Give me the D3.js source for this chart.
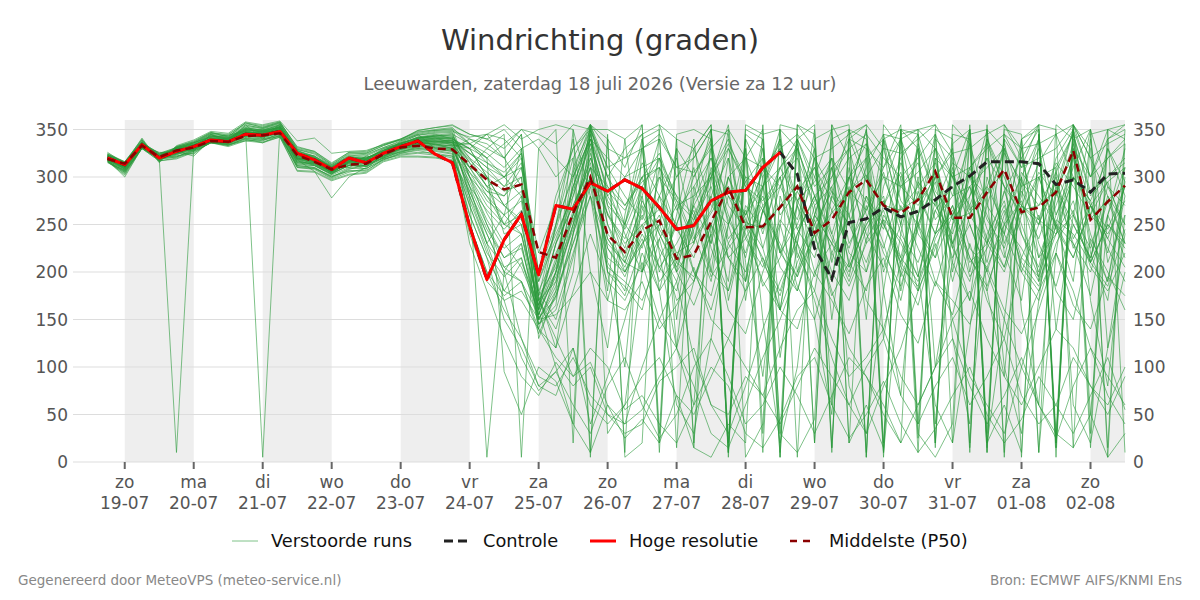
<!DOCTYPE html>
<html><head><meta charset="utf-8">
<script src="https://cdn.jsdelivr.net/npm/d3@7"></script>
<style>body{margin:0;background:#fff}svg{display:block;font-family:"DejaVu Sans",sans-serif}</style>
</head><body><svg id="c" width="1200" height="600"></svg>
<script>
const titleText = "Windrichting (graden)";
const subtitleText = "Leeuwarden, zaterdag 18 juli 2026 (Versie za 12 uur)";
const startTime = "2026-07-18T18:00:00Z";
const stepHours = 6;
const tickDays = ["zo","ma","di","wo","do","vr","za","zo","ma","di","wo","do","vr","za","zo"];
const tickDates = ["19-07","20-07","21-07","22-07","23-07","24-07","25-07","26-07","27-07","28-07","29-07","30-07","31-07","01-08","02-08"];
const shadedDates = ["19-07","21-07","23-07","25-07","27-07","29-07","31-07","02-08"];
const yTicks = [0,50,100,150,200,250,300,350];

const hres = [320,313,334,320,327,332,339,337,345,344,348,325,318,308,320,315,325,332,338,324,315,248,192,234,261,197,270,266,294,285,297,288,268,245,249,275,284,286,310,326];
const control = [320,313,334,320,327,332,339,337,345,344,348,325,318,308,320,315,325,332,338,324,315,248,192,234,261,197,270,266,294,285,297,288,268,245,249,275,284,286,310,326,303,225,193,252,256,268,258,264,276,290,301,316,316,316,314,292,297,284,303,304];
const p50 = [319,314,333,321,328,331,338,337,343,344,346,323,316,308,313,314,324,331,333,330,329,313,297,287,292,221,215,262,300,239,221,244,254,214,218,253,289,247,248,268,290,241,255,284,297,270,262,276,306,257,257,284,308,263,268,284,328,255,274,291];

// ensemble members, first 21 steps (18-07 18u .. 23-07 18u)
const membersEarly = [
[318,309,333,322,325,334,340,339,350,347,352,318,312,303,318,311,327,333,338,341,336],
[324,315,338,317,330,327,345,335,355,340,356,325,322,310,312,322,320,338,345,330,328],
[316,304,331,319,321,329,337,333,341,338,346,310,308,298,305,309,318,325,328,324,320],
[321,313,336,325,331,336,342,344,348,350,351,328,320,311,322,318,330,335,342,345,340],
[319,310,332,318,326,324,338,337,344,342,348,315,314,305,315,316,322,329,333,333,331],
[325,316,340,315,332,338,347,342,357,352,358,330,326,313,325,325,333,340,348,349,350],
[317,306,330,320,10,330,336,334,340,336,344,312,310,300,308,313,320,327,330,328,325],
[322,311,335,324,329,333,344,341,352,349,354,322,318,309,320,320,328,336,340,343,345],
[320,308,334,321,327,322,339,339,346,345,350,319,315,306,314,308,325,330,336,335,330],
[326,314,341,316,333,339,348,346,358,355,359,338,341,325,327,328,334,339,349,352,355],
[315,307,333,323,324,332,338,340,343,348,347,322,316,307,319,314,327,334,337,340,338],
[321,313,334,320,330,328,341,336,349,344,353,326,318,310,310,319,322,332,335,331,329],
[323,316,337,322,331,335,345,343,353,351,355,329,324,312,323,323,331,337,344,347,348],
[316,305,330,317,319,326,336,333,339,337,342,307,306,297,303,305,317,322,322,321,318],
[322,310,334,321,328,330,340,338,350,5,352,324,319,308,317,317,325,333,339,338,337],
[319,312,335,324,327,333,339,340,347,346,349,320,317,304,316,321,324,331,341,342,340],
[320,309,332,319,323,331,338,337,345,343,350,317,313,303,313,312,323,326,332,334,333],
[324,315,339,316,332,337,346,345,356,353,357,332,327,315,326,326,335,340,347,350,352],
[317,303,331,322,322,325,337,334,338,339,343,311,309,299,307,306,319,323,325,323,322],
[321,314,336,325,329,336,343,342,351,350,354,327,321,311,321,320,329,336,341,344,343],
[318,311,333,318,326,330,339,336,344,344,348,316,315,305,314,315,322,330,334,336,335],
[320,308,334,320,327,331,338,337,346,344,349,318,306,278,300,310,324,331,336,334,330],
[322,314,335,323,330,334,342,340,351,347,353,323,320,309,318,319,326,334,340,340,342],
[319,310,333,326,325,332,337,341,345,349,347,319,318,306,317,318,324,329,335,338,334],
[323,315,337,320,331,336,345,339,354,352,356,328,322,312,322,324,331,338,345,348,349],
[316,302,330,317,320,327,336,332,338,336,342,306,305,296,302,304,316,321,321,320,317],
[322,312,334,321,329,333,340,341,348,346,351,324,319,310,319,318,328,334,339,341,339],
[320,313,335,323,328,331,341,338,347,345,349,321,317,307,316,317,325,332,338,337,338],
[318,307,331,320,324,328,337,335,342,340,345,313,312,302,310,311,320,326,330,329,327],
[318,300,331,318,326,329,338,336,343,341,347,316,314,304,312,313,321,329,333,332,330],
[321,313,335,322,330,334,341,340,349,348,352,325,318,309,318,320,327,335,341,344,346],
[319,310,332,320,325,330,338,336,344,343,348,318,315,305,315,314,323,330,334,335,332],
[324,316,339,319,332,337,347,344,357,354,358,331,327,314,326,327,334,340,349,352,354],
[317,306,330,319,321,328,336,334,340,339,343,310,309,301,306,307,318,324,326,325,322],
[322,314,336,324,331,333,343,341,350,348,353,324,320,310,320,319,328,335,342,342,341],
[320,311,334,321,328,332,340,338,347,346,351,321,317,307,318,316,326,333,339,339,338],
[318,309,332,321,327,329,339,337,345,345,347,319,314,305,315,315,322,330,336,334,333],
[323,313,337,320,331,335,344,342,352,349,355,327,322,311,321,322,330,336,344,346,347],
[319,311,333,322,327,331,338,338,346,347,349,320,316,306,316,316,324,331,336,337,336],
[321,312,335,320,329,332,340,339,348,345,350,322,318,308,318,317,325,333,338,339,338],
[317,305,331,320,322,327,336,335,341,340,344,312,310,300,309,309,319,325,329,327,324],
[322,313,335,322,330,334,342,341,350,349,352,325,320,310,320,320,328,335,341,343,344],
[320,312,334,320,328,331,339,338,347,345,350,320,316,306,317,316,325,331,337,338,336],
[318,308,331,319,324,329,337,335,343,342,346,315,313,304,312,312,321,328,332,331,329],
[323,315,337,321,331,336,346,343,355,351,357,329,325,313,324,325,333,339,346,349,351],
[319,310,333,321,327,331,339,338,346,346,349,320,316,307,316,317,324,332,337,337,336],
[321,312,334,322,329,333,341,339,349,347,351,323,319,309,319,318,327,334,340,341,340],
[320,311,333,321,328,330,339,337,346,344,349,319,316,306,316,315,324,331,336,336,334],
[322,314,336,320,330,334,343,340,351,348,353,325,321,310,320,319,328,335,342,343,342],
[318,307,331,320,325,330,337,336,343,342,346,314,312,303,312,311,320,327,331,330,327]
];

// ensemble members, remaining 39 steps (24-07 00u .. 02-08 12u)
const membersLate = [
[318,300,285,292,152,172,240,300,262,230,250,266,220,232,262,290,252,246,270,292,240,262,286,302,270,265,278,305,255,262,286,305,265,270,286,325,256,276,290],
[300,262,230,205,160,215,290,345,250,200,230,250,210,195,240,300,320,270,290,330,280,240,300,320,340,290,270,300,330,20,340,300,250,200,260,310,350,290,270],
[280,230,180,170,140,110,90,105,60,40,55,90,120,80,30,15,60,110,150,200,240,180,120,90,60,20,350,330,300,250,200,150,100,60,30,355,320,280,250],
[325,310,300,280,175,205,260,320,280,250,300,240,200,275,320,260,215,290,330,270,230,310,260,200,290,340,250,215,300,270,320,230,280,340,260,300,210,330,280],
[290,250,215,230,150,180,230,290,200,185,160,235,270,200,175,250,300,225,160,275,310,240,195,280,230,170,260,305,225,190,270,330,240,205,285,230,175,260,310],
[340,330,320,345,170,140,200,350,300,330,345,355,300,320,350,10,340,300,5,355,330,10,350,340,20,350,330,15,345,340,10,355,320,350,15,350,300,340,355],
[270,220,195,215,145,160,220,280,230,210,200,235,170,190,250,215,180,265,230,195,240,175,210,270,220,185,250,295,210,170,240,275,205,180,250,215,270,225,190],
[335,320,335,350,330,300,320,355,310,320,330,340,310,305,330,350,320,310,330,345,320,330,345,355,330,325,340,355,325,330,345,355,330,335,345,355,320,335,345],
[260,215,150,120,80,95,120,60,40,60,90,110,70,50,90,130,100,70,120,160,180,130,90,110,140,90,60,100,150,180,130,90,60,100,140,120,80,60,100],
[345,340,350,330,340,320,300,340,290,270,300,310,280,260,300,330,290,275,300,320,270,290,320,335,300,290,305,330,280,290,310,330,290,300,310,345,280,300,315],
[320,290,250,260,140,200,310,350,210,180,290,320,200,230,330,250,190,300,340,220,180,280,350,300,200,250,330,280,190,260,340,290,200,250,320,350,230,190,280],
[310,280,260,240,165,230,270,310,290,240,200,280,320,240,190,300,260,330,220,285,250,190,300,335,250,210,285,240,310,200,290,250,330,215,270,320,240,190,295],
[342,345,355,340,350,355,350,10,345,5,20,355,340,15,350,345,5,40,355,350,20,340,350,5,355,330,10,350,340,15,355,10,340,350,5,355,30,350,340],
[285,240,200,190,155,210,255,300,240,220,270,205,180,250,300,215,190,265,225,180,240,290,210,180,260,230,195,275,215,250,200,260,300,230,185,250,215,280,230],
[300,270,250,280,175,250,300,340,270,250,225,300,275,230,310,255,220,290,340,245,275,320,230,265,300,250,335,280,225,310,260,215,290,330,245,300,275,220,310],
[330,300,270,250,160,100,40,355,30,60,200,250,330,20,250,190,340,30,280,230,350,60,280,320,10,200,300,40,250,350,20,150,300,10,220,330,50,260,330],
[305,285,270,255,200,240,280,335,260,235,280,200,250,310,225,180,270,245,300,215,260,310,205,250,280,195,245,300,230,270,210,285,240,195,305,260,225,290,250],
[335,325,310,330,170,190,250,355,280,300,310,320,270,280,300,335,300,290,310,340,290,310,330,345,320,300,320,345,300,310,330,345,310,320,330,355,300,320,335],
[250,200,175,190,140,120,180,240,190,170,210,150,120,190,240,160,135,200,250,185,150,220,260,170,140,210,250,190,155,230,170,130,215,260,180,150,235,200,160],
[320,305,290,300,145,165,300,350,310,280,255,320,280,235,265,330,295,240,310,275,240,300,330,260,225,290,315,255,280,335,270,240,305,280,250,325,260,295,240],
[310,330,345,5,330,350,20,355,340,10,340,350,15,330,355,20,350,340,10,355,345,15,340,355,10,345,350,20,355,335,15,350,345,10,355,340,15,340,350],
[295,255,225,240,150,185,250,310,235,205,250,190,215,270,230,300,250,215,180,240,280,235,200,255,305,240,210,265,230,300,245,205,270,235,290,250,215,275,230],
[250,200,160,130,90,80,110,70,50,40,100,150,190,110,60,30,80,140,190,230,170,110,60,30,80,120,180,230,150,90,60,30,100,160,220,180,120,70,40],
[330,345,340,320,180,220,260,330,200,175,230,260,200,165,215,280,240,190,160,210,255,200,170,235,265,210,180,225,270,215,185,240,200,170,230,265,205,180,220],
[335,315,300,325,200,250,320,5,340,310,355,20,330,300,340,10,320,350,30,340,300,350,20,330,310,355,40,320,300,350,30,340,310,355,20,330,300,350,10],
[240,190,170,180,150,155,175,200,170,160,190,140,165,205,150,130,180,215,160,140,200,170,135,185,215,155,125,190,170,145,205,160,135,180,220,165,140,195,175],
[315,290,300,310,220,270,330,350,300,250,315,280,250,300,335,270,245,310,290,255,320,285,260,310,345,275,250,300,325,265,290,335,270,255,315,290,260,330,295],
[330,320,95,50,100,85,40,10,60,25,45,20,70,15,5,40,20,355,30,10,45,355,20,60,15,350,30,5,40,355,20,60,10,345,30,15,50,5,30],
[230,180,130,90,70,105,80,100,50,30,40,85,100,120,60,50,90,70,40,80,120,90,60,100,130,70,40,80,110,60,90,130,70,40,60,110,80,50,90],
[340,335,320,345,155,200,280,340,270,210,265,300,245,215,280,320,255,225,290,335,260,230,300,275,245,315,280,240,305,260,230,285,320,255,240,300,270,235,290],
[290,230,260,330,130,180,350,280,170,250,330,180,260,340,200,320,170,290,350,200,270,190,310,230,340,180,260,330,200,280,350,220,170,300,250,190,340,210,260],
[305,275,260,275,150,190,260,320,260,225,290,245,215,270,305,235,260,290,220,250,300,265,225,280,250,215,295,270,240,305,255,225,285,250,300,235,270,245,290],
[345,340,330,350,345,335,355,350,350,340,355,30,345,350,340,10,355,345,350,5,340,350,355,10,345,340,350,355,20,345,350,5,340,355,350,15,345,350,355],
[260,215,180,210,165,230,270,315,215,200,235,180,210,260,195,225,250,185,215,270,200,230,190,245,275,205,185,240,260,195,225,265,210,185,250,230,200,260,215],
[280,240,200,130,80,70,120,40,90,150,220,180,60,30,130,250,330,150,20,100,260,320,80,30,180,300,200,60,20,140,280,100,30,170,310,60,20,120,240],
[325,310,290,315,160,230,290,345,285,265,300,325,275,255,305,340,290,265,310,330,280,300,340,295,270,320,345,285,260,310,335,290,270,315,345,300,275,320,340],
[335,320,300,320,180,150,215,300,180,340,200,310,150,290,230,350,190,320,160,270,330,210,290,150,340,250,180,320,230,170,300,240,340,190,280,350,220,170,300],
[300,250,205,190,135,175,230,280,205,190,170,215,250,200,160,230,265,210,175,240,280,220,185,230,255,200,165,235,270,215,180,250,225,190,240,275,210,185,245],
[310,285,280,300,170,210,290,340,320,300,330,345,310,320,350,5,330,10,350,330,20,355,320,5,340,350,25,340,320,10,350,330,5,345,20,355,330,15,350],
[280,5,200,230,145,175,240,300,225,200,245,280,215,190,250,290,235,205,255,230,195,265,300,240,205,270,225,185,250,290,230,200,260,300,245,215,270,235,205],
[270,225,170,110,75,95,60,30,80,110,60,25,50,100,130,90,40,60,100,70,30,70,110,90,50,20,60,100,130,80,40,70,110,60,25,80,120,90,60],
[310,300,270,285,190,245,305,355,300,270,295,310,265,290,320,280,260,305,335,275,295,320,285,265,310,340,290,270,315,300,280,325,295,270,305,345,285,300,320],
[335,345,320,290,175,120,240,355,200,100,280,340,120,60,300,355,210,90,250,340,150,50,280,350,180,70,260,345,130,40,230,340,160,60,290,350,170,80,260],
[290,265,245,265,165,200,265,325,250,215,275,240,205,255,290,230,200,265,300,245,215,280,250,210,270,305,240,215,260,290,235,205,270,250,295,225,260,240,275],
[300,280,250,240,170,130,90,120,100,55,70,40,20,60,100,80,30,15,45,90,110,60,25,50,85,40,10,35,70,100,50,20,45,90,60,30,70,110,55],
[325,315,305,325,190,235,285,335,275,245,290,265,300,330,270,250,295,320,260,285,310,275,250,300,330,265,290,315,255,280,320,290,260,305,280,335,270,295,310],
[330,300,240,250,160,250,340,200,120,260,340,220,120,280,350,170,250,340,110,230,320,150,280,350,130,240,330,100,210,350,180,90,300,340,140,260,350,120,200],
[285,245,215,225,160,195,245,300,235,210,260,225,190,245,280,215,235,270,205,180,250,285,220,200,255,235,195,265,290,225,205,250,275,215,240,260,210,250,230],
[315,290,280,310,200,280,330,355,330,320,345,10,340,330,355,20,345,330,5,340,355,15,340,330,5,350,345,20,335,350,10,345,330,355,15,340,350,5,335],
[275,230,205,215,155,200,250,310,225,195,240,205,230,265,200,180,245,280,220,195,260,230,205,250,275,215,190,240,265,210,230,270,215,195,255,240,210,250,225]
];
const members = membersEarly.map((r, k) => r.concat(membersLate[k]));

const svg = d3.select("#c");
const pLeft = 73, pRight = 1125, pTop = 120, pBottom = 462;

const parseDM = s => new Date(Date.UTC(2026, +s.slice(3,5) - 1, +s.slice(0,2)));
const x = d3.scaleUtc()
  .domain([new Date("2026-07-18T06:00:00Z"), new Date("2026-08-02T12:00:00Z")])
  .range([pLeft, pRight]);
const y = d3.scaleLinear().domain([0, 360]).range([pBottom, pTop]);
const t0 = new Date(startTime);
const timeAt = i => d3.utcHour.offset(t0, stepHours * i);

// shaded days
svg.append("g").selectAll("rect").data(shadedDates).join("rect")
  .attr("x", d => x(parseDM(d)))
  .attr("width", d => Math.min(x(d3.utcDay.offset(parseDM(d), 1)), pRight) - x(parseDM(d)))
  .attr("y", pTop).attr("height", pBottom - pTop)
  .attr("fill", "#eeeeee");

// grid
svg.append("g").selectAll("line").data(yTicks).join("line")
  .attr("x1", pLeft).attr("x2", pRight)
  .attr("y1", d => y(d)).attr("y2", d => y(d))
  .attr("stroke", "#dddddd").attr("stroke-width", 1);

// y labels
const yl = svg.append("g").attr("font-size", 17).attr("fill", "#555");
yl.selectAll("text.l").data(yTicks).join("text").attr("class","l")
  .attr("x", 68).attr("y", d => y(d) + 6).attr("text-anchor", "end").text(d => d);
yl.selectAll("text.r").data(yTicks).join("text").attr("class","r")
  .attr("x", 1133).attr("y", d => y(d) + 6).attr("text-anchor", "start").text(d => d);

// x ticks
const xt = svg.append("g");
tickDates.forEach((d, i) => {
  const px = x(parseDM(d));
  xt.append("line").attr("x1", px).attr("x2", px).attr("y1", pBottom).attr("y2", pBottom + 7)
    .attr("stroke", "#666").attr("stroke-width", 2);
  xt.append("text").attr("x", px).attr("y", 488).attr("text-anchor", "middle")
    .attr("font-size", 17).attr("fill", "#555").text(tickDays[i]);
  xt.append("text").attr("x", px).attr("y", 509).attr("text-anchor", "middle")
    .attr("font-size", 17).attr("fill", "#555").text(d);
});

const line = d3.line().x((d, i) => x(timeAt(i))).y(d => y(d));

svg.append("g").selectAll("path").data(members).join("path")
  .attr("d", line).attr("fill", "none")
  .attr("stroke", "#2a9a3a").attr("stroke-opacity", 0.6).attr("stroke-width", 1);

svg.append("path").attr("d", line(control)).attr("fill", "none")
  .attr("stroke", "#222").attr("stroke-width", 3).attr("stroke-dasharray", "9,5");
svg.append("path").attr("d", line(hres)).attr("fill", "none")
  .attr("stroke", "#ff0000").attr("stroke-width", 3).attr("stroke-linejoin", "round");
svg.append("path").attr("d", line(p50)).attr("fill", "none")
  .attr("stroke", "#8b0000").attr("stroke-width", 2.5).attr("stroke-dasharray", "8,5");

// titles
svg.append("text").attr("x", 600).attr("y", 50).attr("text-anchor", "middle")
  .attr("font-size", 29).attr("fill", "#333").text(titleText);
svg.append("text").attr("x", 600).attr("y", 90).attr("text-anchor", "middle")
  .attr("font-size", 17.8).attr("fill", "#666").text(subtitleText);

// legend
const lg = svg.append("g").attr("font-size", 17.8).attr("fill", "#111");
const ly = 541;
lg.append("line").attr("x1", 232).attr("x2", 258).attr("y1", ly).attr("y2", ly)
  .attr("stroke", "#2a9a3a").attr("stroke-opacity", 0.6).attr("stroke-width", 1);
lg.append("text").attr("x", 271).attr("y", ly + 6).text("Verstoorde runs");
lg.append("line").attr("x1", 444).attr("x2", 470).attr("y1", ly).attr("y2", ly)
  .attr("stroke", "#222").attr("stroke-width", 3).attr("stroke-dasharray", "9,5");
lg.append("text").attr("x", 483).attr("y", ly + 6).text("Controle");
lg.append("line").attr("x1", 590).attr("x2", 616).attr("y1", ly).attr("y2", ly)
  .attr("stroke", "#ff0000").attr("stroke-width", 3);
lg.append("text").attr("x", 629).attr("y", ly + 6).text("Hoge resolutie");
lg.append("line").attr("x1", 790).attr("x2", 812).attr("y1", ly).attr("y2", ly)
  .attr("stroke", "#8b0000").attr("stroke-width", 2.5).attr("stroke-dasharray", "7,6");
lg.append("text").attr("x", 829).attr("y", ly + 6).text("Middelste (P50)");

// footer
svg.append("text").attr("x", 18).attr("y", 585).attr("font-size", 13.5).attr("fill", "#888")
  .text("Gegenereerd door MeteoVPS (meteo-service.nl)");
svg.append("text").attr("x", 1182).attr("y", 585).attr("font-size", 13.5).attr("fill", "#888")
  .attr("text-anchor", "end").text("Bron: ECMWF AIFS/KNMI Ens");
</script></body></html>
